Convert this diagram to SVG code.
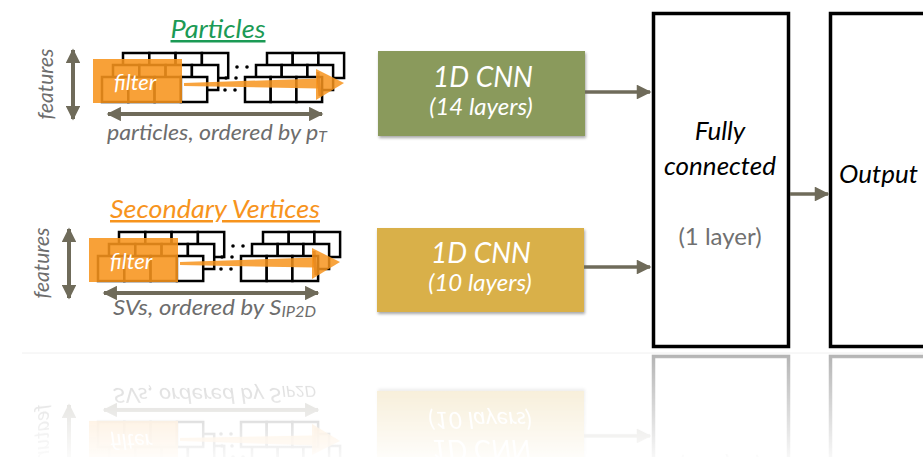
<svg xmlns="http://www.w3.org/2000/svg" xmlns:xlink="http://www.w3.org/1999/xlink" width="923" height="457" viewBox="0 0 923 457">
<style>
.t{font-family:Lato,"Liberation Sans",sans-serif;font-style:italic}
.cell{fill:#fff;stroke:#000;stroke-width:2.5}
.cap{fill:#6d6d6d;font-size:22px}
.feat{fill:#6d6d6d;font-size:21px}
.dbl{stroke:#6f6b5a;stroke-width:4;fill:none}
.con{stroke:#6f6b5a;stroke-width:3.5;fill:none}
.filt{fill:#f7941d;opacity:0.88}
.brush{fill:#f7941d;opacity:0.85}
.wt{fill:#fff}
.box{fill:#fff;stroke:#000;stroke-width:3.5}
.dot{fill:#000}
</style>
<defs>
<marker id="ah" viewBox="0 0 10 10" refX="9" refY="5" markerWidth="4" markerHeight="3.6" orient="auto-start-reverse" markerUnits="strokeWidth">
<path d="M0,0 L10,5 L0,10 z" fill="#6f6b5a"/>
</marker>
<marker id="ah2" viewBox="0 0 10 10" refX="9" refY="5" markerWidth="4.6" markerHeight="4.2" orient="auto" markerUnits="strokeWidth">
<path d="M0,0 L10,5 L0,10 z" fill="#6f6b5a"/>
</marker>
<g id="row4">
<rect class="cell" x="0" y="0" width="26.3" height="25"/>
<rect class="cell" x="26.3" y="0" width="26.3" height="25"/>
<rect class="cell" x="52.6" y="0" width="26.3" height="25"/>
<rect class="cell" x="78.9" y="0" width="26.3" height="25"/>
</g>
<g id="row3">
<rect class="cell" x="0" y="0" width="25.7" height="25"/>
<rect class="cell" x="25.7" y="0" width="25.7" height="25"/>
<rect class="cell" x="51.4" y="0" width="25.7" height="25"/>
</g>
<g id="grid">
<use xlink:href="#row4" x="123" y="53"/>
<use xlink:href="#row4" x="113" y="65"/>
<use xlink:href="#row4" x="102" y="77"/>
<circle class="dot" cx="237" cy="67" r="1.8"/>
<circle class="dot" cx="247" cy="67" r="1.8"/>
<circle class="dot" cx="226" cy="78" r="1.8"/>
<circle class="dot" cx="236" cy="78" r="1.8"/>
<circle class="dot" cx="225" cy="90" r="1.8"/>
<circle class="dot" cx="235" cy="90" r="1.8"/>
<use xlink:href="#row3" x="267" y="53"/>
<use xlink:href="#row3" x="256" y="65"/>
<use xlink:href="#row3" x="245" y="77"/>
<rect class="filt" x="93" y="59" width="89" height="44"/>
<text class="t wt" x="114" y="90" font-size="22">filter</text>
<path class="brush" d="M184,83 L318,78.5 L318,88.5 L184,86 z"/>
<path class="brush" d="M316,69 L344,83 L316,100 z"/>
<path d="M318,72 L320,96" stroke="#e07d10" stroke-width="3" opacity="0.6"/>
<line class="dbl" x1="73" y1="50" x2="73" y2="119" marker-start="url(#ah)" marker-end="url(#ah)"/>
<line class="dbl" x1="108" y1="114" x2="322" y2="114" marker-start="url(#ah)" marker-end="url(#ah)"/>
<text class="t feat" transform="translate(53,84) rotate(-90)" text-anchor="middle">features</text>
</g>
<filter id="sh" x="-5%" y="-5%" width="115%" height="120%">
<feGaussianBlur in="SourceAlpha" stdDeviation="1.5"/>
<feOffset dx="1" dy="2"/>
<feComponentTransfer><feFuncA type="linear" slope="0.35"/></feComponentTransfer>
<feMerge><feMergeNode/><feMergeNode in="SourceGraphic"/></feMerge>
</filter>
<linearGradient id="fg" x1="0" y1="352" x2="0" y2="457" gradientUnits="userSpaceOnUse">
<stop offset="0" stop-color="#fff" stop-opacity="0.3"/>
<stop offset="1" stop-color="#fff" stop-opacity="0.03"/>
</linearGradient>
<mask id="fade" maskUnits="userSpaceOnUse" x="0" y="350" width="923" height="107">
<rect x="0" y="350" width="923" height="107" fill="url(#fg)"/>
</mask>
</defs>

<g id="main">
<g id="particles">
<use xlink:href="#grid"/>
<text class="t" x="218" y="38" font-size="25" fill="#1b9a55" text-anchor="middle" text-decoration="underline" textLength="95" lengthAdjust="spacingAndGlyphs">Particles</text>
<text class="t cap" x="107" y="140" textLength="220" lengthAdjust="spacingAndGlyphs">particles, ordered by p<tspan font-size="15" dy="2">T</tspan></text>
</g>
<g id="secondary-vertices">
<use xlink:href="#grid" transform="translate(-4,179)"/>
<text class="t" x="215" y="218" font-size="25" fill="#f7941d" text-anchor="middle" text-decoration="underline" textLength="210" lengthAdjust="spacingAndGlyphs">Secondary Vertices</text>
<text class="t cap" x="113" y="315" textLength="203" lengthAdjust="spacingAndGlyphs">SVs, ordered by S<tspan font-size="15" dy="2">IP2D</tspan></text>
</g>
<g id="cnn-particles">
<rect x="378" y="51" width="207" height="85" fill="#8a9a5b" filter="url(#sh)"/>
<text class="t wt" x="483" y="87" font-size="28" text-anchor="middle">1D CNN</text>
<text class="t wt" x="481" y="115" font-size="24" text-anchor="middle">(14 layers)</text>
</g>
<g id="cnn-sv">
<rect x="377" y="228" width="207" height="84" fill="#d9b04a" filter="url(#sh)"/>
<text class="t wt" x="481" y="263" font-size="28" text-anchor="middle">1D CNN</text>
<text class="t wt" x="480" y="291" font-size="24" text-anchor="middle">(10 layers)</text>
</g>
<g id="fully-connected">
<rect class="box" x="653.5" y="13.5" width="135" height="333"/>
<text class="t" x="720" y="140" font-size="26" fill="#000" text-anchor="middle">Fully</text>
<text class="t" x="720" y="175" font-size="26" fill="#000" text-anchor="middle">connected</text>
<text x="720" y="245" font-size="24" fill="#707070" text-anchor="middle" font-family="Lato,'Liberation Sans',sans-serif">(1 layer)</text>
</g>
<g id="output">
<rect class="box" x="830.5" y="13.5" width="120" height="333"/>
<text class="t" x="839" y="183" font-size="26" fill="#000">Output</text>
</g>
<g id="connectors">
<line class="con" x1="585" y1="92" x2="650" y2="92" marker-end="url(#ah2)"/>
<line class="con" x1="584" y1="267" x2="650" y2="267" marker-end="url(#ah2)"/>
<line class="con" x1="790" y1="194" x2="828" y2="194" marker-end="url(#ah2)"/>
</g>
</g>

<line x1="22" y1="353" x2="923" y2="353" stroke="#f0f0f0" stroke-width="1"/>
<g id="reflection" mask="url(#fade)">
<use xlink:href="#main" transform="matrix(1 0 0 -1 0 703)"/>
</g>
</svg>
